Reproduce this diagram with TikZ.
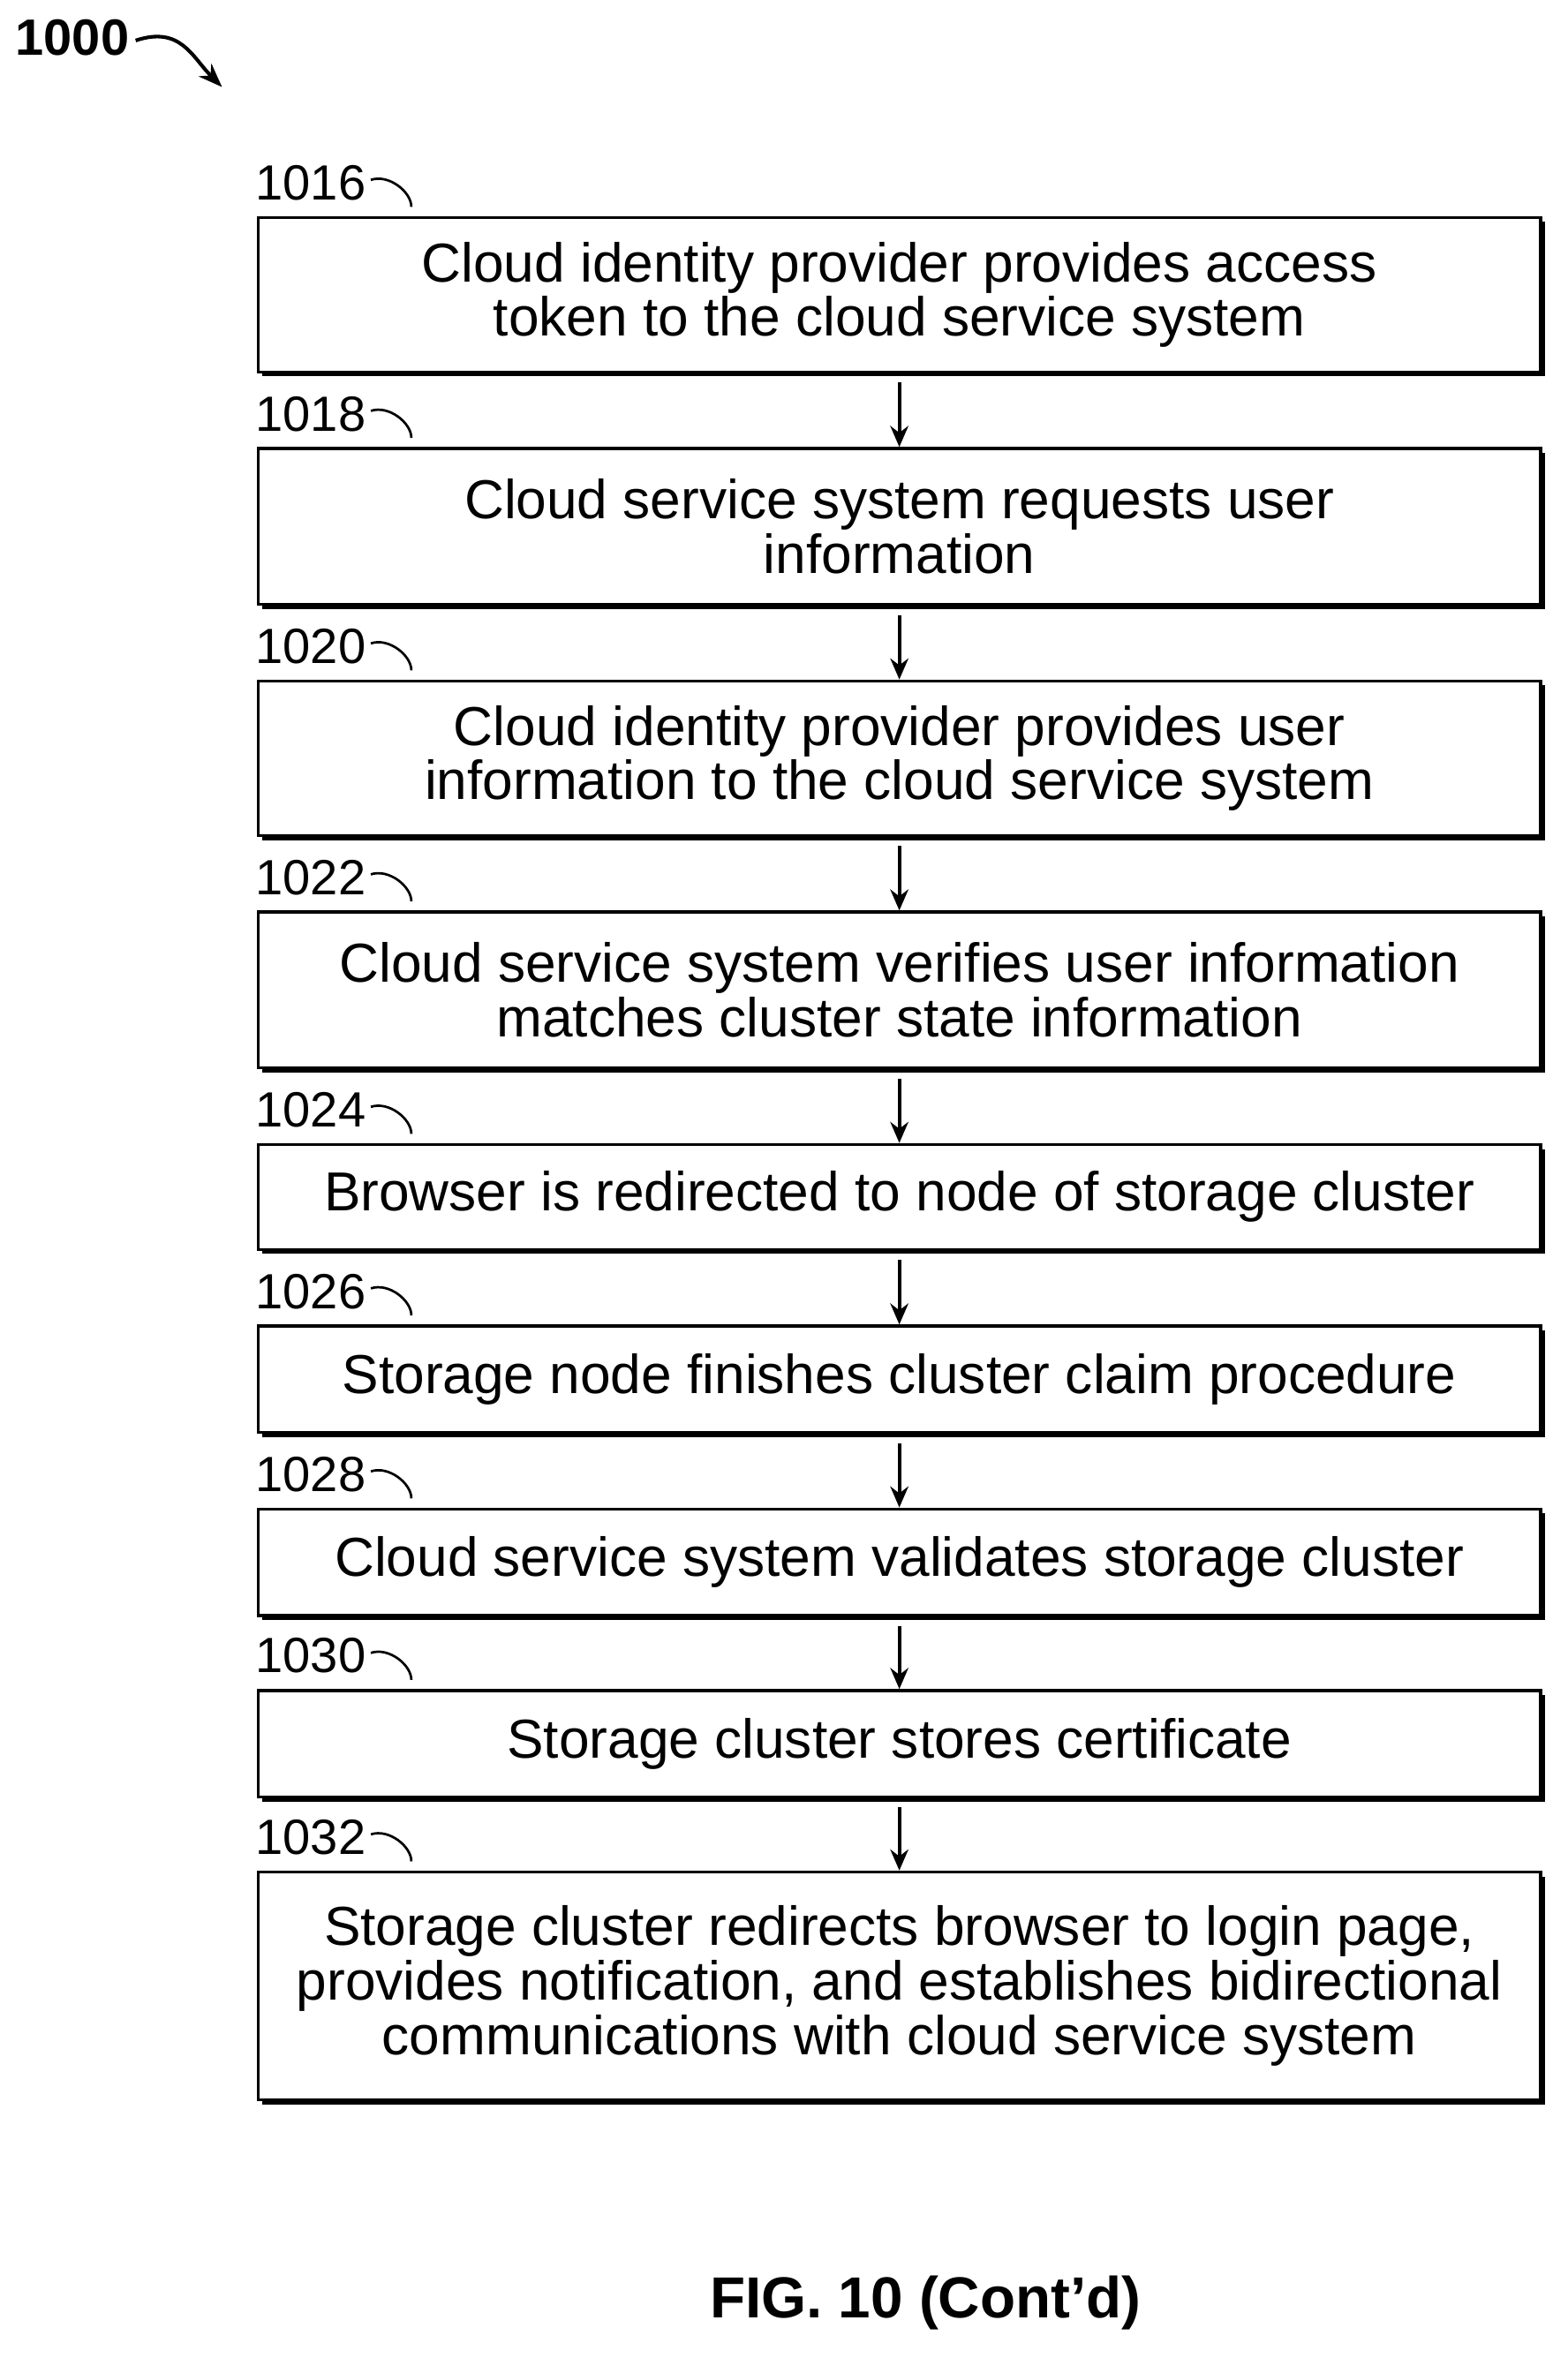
\documentclass[tikz,border=0pt]{standalone}
\usepackage{fontspec}
\setmainfont{Liberation Sans}
\usetikzlibrary{arrows.meta}
\begin{document}
\begin{tikzpicture}[x=0.5pt,y=-0.5pt,
  stepbox/.style={draw,line width=1pt,fill=white,minimum width=427.5pt,align=center,font=\fontsize{18.3}{18.2}\selectfont,inner sep=0pt},
  lbl/.style={anchor=south west,font=\fontsize{16.5}{18}\selectfont,inner sep=0pt},
  flow/.style={-{Stealth[length=7pt,width=6pt]},line width=1.2pt}]
\useasboundingbox (0,0) rectangle (1045,1572);
\def\mkbox#1#2#3#4{%
  \fill (175,#2+3) rectangle (1030,#3+3);
  \node[stepbox,minimum height={(#3-#2)*0.5pt}] (#1) at (599.5,{(#2+#3)/2}) {#4};}
\mkbox{b1}{145}{248}{Cloud identity provider provides access\\token to the cloud service system}
\mkbox{b2}{299}{403}{Cloud service system requests user\\information}
\mkbox{b3}{454}{557}{Cloud identity provider provides user\\information to the cloud service system}
\mkbox{b4}{608}{712}{Cloud service system verifies user information\\matches cluster state information}
\mkbox{b5}{763}{833}{Browser is redirected to node of storage cluster}
\mkbox{b6}{884}{955}{Storage node finishes cluster claim procedure}
\mkbox{b7}{1006}{1077}{Cloud service system validates storage cluster}
\mkbox{b8}{1127}{1198}{Storage cluster stores certificate}
\mkbox{b9}{1248}{1400}{Storage cluster redirects browser to login page,\\provides notification, and establishes bidirectional\\communications with cloud service system}
\foreach \n/\t/\y in {l1/1016/145,l2/1018/299,l3/1020/454,l4/1022/608,l5/1024/763,l6/1026/884,l7/1028/1006,l8/1030/1127,l9/1032/1248}{
  \node[lbl] (\n) at (170,\y-11) {\t};
  \draw[line width=0.8pt] (\n.east) ++(3,-2) .. controls +(12,-4) and +(0,-10) .. ++(27,18);
}
\foreach \a/\b in {b1/b2,b2/b3,b3/b4,b4/b5,b5/b6,b6/b7,b7/b8,b8/b9}{
  \draw[flow] ([yshift=-3pt]\a.south) -- (\b.north);
}
\node[anchor=west,font=\bfseries\fontsize{17}{19}\selectfont,inner sep=0pt] (t) at (10,25) {1000};
\draw[-{Stealth[length=8pt,width=6pt]},line width=1.2pt] (t.east) ++(4,2) .. controls +(30,-10) and +(-20,-20) .. (148,58);
\node[font=\bfseries\fontsize{19.3}{21}\selectfont] (fig) at (617,1535) {FIG. 10 (Cont'd)};
\end{tikzpicture}
\end{document}
